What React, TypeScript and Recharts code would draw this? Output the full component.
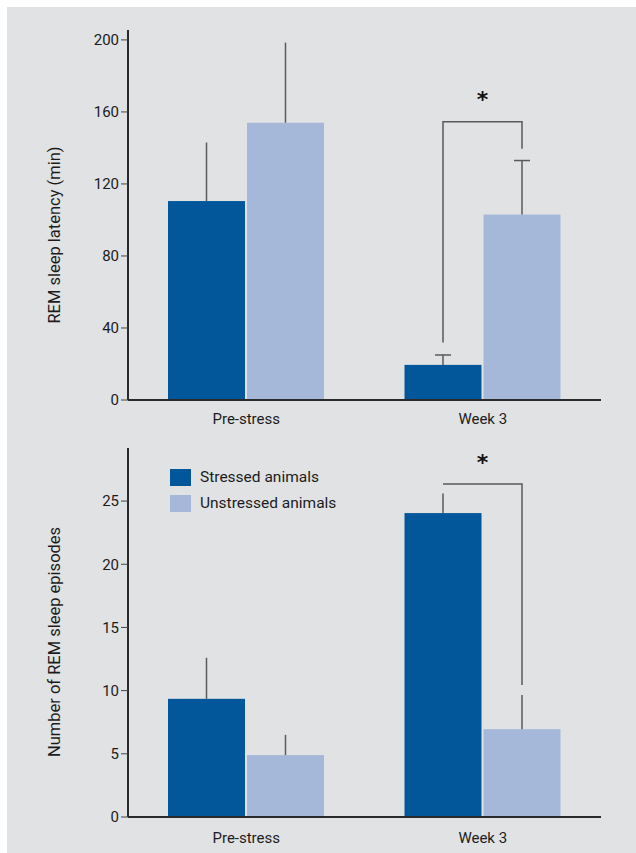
import { BarChart, Bar, XAxis, YAxis, Legend, Label } from 'recharts'

const categories = ['Pre-stress', 'Week 3']

// REM sleep latency (min)
const latencyStressed = [110.5, 19.5]
const latencyUnstressed = [154, 103]
const latencyStressedErr = [32.5, 5.5]
const latencyUnstressedErr = [44.5, 30]
const latencyTicks = [0, 40, 80, 120, 160, 200]
const latencyCaps = [false, true]
// significance bracket: foot over stressed bar, top, foot over unstressed bar
const latencyBracket = [32, 154.5, 139.5]
const latencyStar = 168

// number of REM sleep episodes
const episodesStressed = [9.35, 24.05]
const episodesUnstressed = [4.9, 6.95]
const episodesStressedErr = [3.25, 1.55]
const episodesUnstressedErr = [1.6, 2.7]
const episodesTicks = [0, 5, 10, 15, 20, 25]
const episodesCaps = [false, false]
const episodesBracket = [26.35, 26.35, 10.45]
const episodesStar = 28.2

const legendItems = ['Stressed animals', 'Unstressed animals']

const DARK = '#02579b'
const LIGHT = '#a6b8da'
const BG = '#e1e2e4'
const TEXT = '#1c1c1c'
const LINE = '#5a5a5a'
const FONT = 'Roboto, sans-serif'
const BAR_GAP = 2

const latencyData = categories.map((name, i) => ({
  name,
  stressed: latencyStressed[i],
  unstressed: latencyUnstressed[i],
  stressedErr: latencyStressedErr[i],
  unstressedErr: latencyUnstressedErr[i],
}))

const episodesData = categories.map((name, i) => ({
  name,
  stressed: episodesStressed[i],
  unstressed: episodesUnstressed[i],
  stressedErr: episodesStressedErr[i],
  unstressedErr: episodesUnstressedErr[i],
}))

function makeShape(key: string, caps: boolean[], bracket: number[] | null, star: number | null) {
  return (props: any) => {
    const { x, y, width, height, fill, index, payload } = props
    const value = payload[key]
    const unit = height / value
    const base = y + height
    const toY = (v: number) => base - v * unit
    const cx = x + width / 2
    const errTop = toY(value + payload[key + 'Err'])
    const showBracket = bracket && index === 1
    const leftX = x - BAR_GAP - width / 2
    return (
      <g>
        <rect x={x} y={y} width={width} height={height} fill={fill} />
        <line x1={cx} x2={cx} y1={y} y2={errTop} stroke={LINE} strokeWidth={1.5} />
        {caps[index] && (
          <line x1={cx - 8} x2={cx + 8} y1={errTop} y2={errTop} stroke={LINE} strokeWidth={1.5} />
        )}
        {showBracket && (
          <path
            d={`M${leftX},${toY(bracket[0])}V${toY(bracket[1])}H${cx}V${toY(bracket[2])}`}
            fill="none"
            stroke={LINE}
            strokeWidth={1.5}
          />
        )}
        {showBracket && star !== null && (
          <text
            x={(leftX + cx) / 2}
            y={toY(star) + 9}
            textAnchor="middle"
            fontSize={22}
            fontWeight="bold"
            fontFamily="DejaVu Sans, sans-serif"
            fill="#111"
          >
            *
          </text>
        )}
      </g>
    )
  }
}

const title = (text: string, cx: number, cy: number) => () => (
  <text
    x={cx}
    y={cy}
    transform={`rotate(-90, ${cx}, ${cy})`}
    textAnchor="middle"
    dominantBaseline="central"
    fontSize={16.5}
    fontFamily={FONT}
    fill={TEXT}
  >
    {text}
  </text>
)

function LegendBox() {
  return (
    <div style={{ fontFamily: FONT, fontSize: 15.5, color: TEXT }}>
      {legendItems.map((t, i) => (
        <div key={t} style={{ display: 'flex', alignItems: 'center', height: 26 }}>
          <span style={{ width: 21, height: 17, background: i === 0 ? DARK : LIGHT, marginRight: 9 }} />
          {t}
        </div>
      ))}
    </div>
  )
}

const axisLine = { stroke: '#2a2a2a', strokeWidth: 2 }
const tickStyle = { fill: TEXT, fontSize: 15, fontFamily: FONT }

export default function App() {
  return (
    <div style={{ position: 'absolute', left: 7, top: 7, width: 629, height: 846, background: BG }}>
      <div style={{ position: 'absolute', left: 0, top: 0 }}>
        <BarChart
          width={629}
          height={423}
          data={latencyData}
          margin={{ top: 23, right: 35, bottom: 0, left: 51 }}
          barGap={BAR_GAP}
          barSize={77}
        >
          <XAxis dataKey="name" axisLine={axisLine} tickLine={false} tickSize={0} tickMargin={13} height={30} tick={tickStyle} />
          <YAxis
            domain={[0, 205.5]}
            ticks={latencyTicks}
            width={70}
            axisLine={axisLine}
            tickLine={{ stroke: '#444' }}
            tickSize={7}
            tickMargin={2}
            tick={tickStyle}
            label={<Label content={title('REM sleep latency (min)', 47, 228)} />}
          />
          <Bar dataKey="stressed" fill={DARK} isAnimationActive={false} shape={makeShape('stressed', latencyCaps, null, null)} />
          <Bar dataKey="unstressed" fill={LIGHT} isAnimationActive={false} shape={makeShape('unstressed', latencyCaps, latencyBracket, latencyStar)} />
        </BarChart>
      </div>
      <div style={{ position: 'absolute', left: 0, top: 423 }}>
        <BarChart
          width={629}
          height={423}
          data={episodesData}
          margin={{ top: 18, right: 35, bottom: 6, left: 51 }}
          barGap={BAR_GAP}
          barSize={77}
        >
          <XAxis dataKey="name" axisLine={axisLine} tickLine={false} tickSize={0} tickMargin={15} height={30} tick={tickStyle} />
          <YAxis
            domain={[0, 29.2]}
            ticks={episodesTicks}
            width={70}
            axisLine={axisLine}
            tickLine={{ stroke: '#444' }}
            tickSize={7}
            tickMargin={2}
            tick={tickStyle}
            label={<Label content={title('Number of REM sleep episodes', 47, 212)} />}
          />
          <Legend
            layout="vertical"
            align="center"
            verticalAlign="middle"
            content={() => <LegendBox />}
            wrapperStyle={{ top: 34, left: 163, width: 'auto' }}
          />
          <Bar dataKey="stressed" fill={DARK} isAnimationActive={false} shape={makeShape('stressed', episodesCaps, null, null)} />
          <Bar dataKey="unstressed" fill={LIGHT} isAnimationActive={false} shape={makeShape('unstressed', episodesCaps, episodesBracket, episodesStar)} />
        </BarChart>
      </div>
    </div>
  )
}
